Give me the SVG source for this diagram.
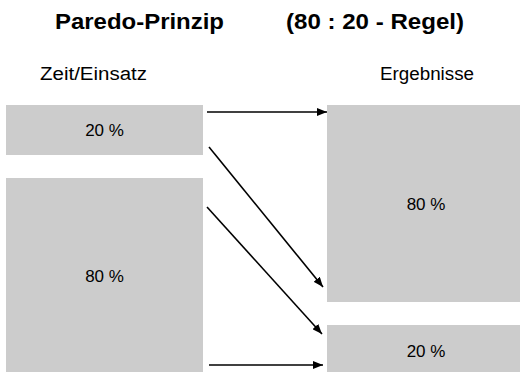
<svg xmlns="http://www.w3.org/2000/svg" width="520" height="372" viewBox="0 0 520 372">
<style>
.box{fill:#cccccc;stroke:none}
.t{font-family:"Liberation Sans",Arial,sans-serif;font-size:17px;fill:#000;text-anchor:middle}
.h{font-family:"Liberation Sans",Arial,sans-serif;font-size:18px;fill:#000}
.title{font-family:"Liberation Sans",Arial,sans-serif;font-size:22px;font-weight:bold;fill:#000}
.c{stroke:#000;stroke-width:1.6;fill:none;marker-end:url(#ah)}
</style>
<defs>
<marker id="ah" viewBox="0 0 10 8" refX="10" refY="4" markerWidth="10" markerHeight="8" markerUnits="userSpaceOnUse" orient="auto">
<path d="M0,0 L10,4 L0,8 Z" fill="#000"/>
</marker>
</defs>
<rect width="520" height="372" fill="#fff"/>
<g id="titles">
<text class="title" x="55" y="29" textLength="169" lengthAdjust="spacingAndGlyphs">Paredo-Prinzip</text>
<text class="title" x="286" y="29" textLength="178" lengthAdjust="spacingAndGlyphs">(80 : 20 - Regel)</text>
<text class="h" x="40" y="80" textLength="107" lengthAdjust="spacingAndGlyphs">Zeit/Einsatz</text>
<text class="h" x="380" y="80" textLength="94" lengthAdjust="spacingAndGlyphs">Ergebnisse</text>
</g>
<g id="left20"><rect class="box" x="6" y="105" width="197" height="50"/><text class="t" x="104.5" y="136">20 %</text></g>
<g id="left80"><rect class="box" x="6" y="178" width="197" height="197"/><text class="t" x="104.5" y="282">80 %</text></g>
<g id="right80"><rect class="box" x="327" y="105" width="198" height="197"/><text class="t" x="426" y="210">80 %</text></g>
<g id="right20"><rect class="box" x="327" y="325" width="198" height="52"/><text class="t" x="426" y="357">20 %</text></g>
<g id="connectors">
<line class="c" x1="207" y1="112" x2="327" y2="112"/>
<line class="c" x1="209" y1="147" x2="323" y2="287"/>
<line class="c" x1="207" y1="207" x2="322" y2="334"/>
<line class="c" x1="209" y1="365" x2="323" y2="365"/>
</g>
</svg>
